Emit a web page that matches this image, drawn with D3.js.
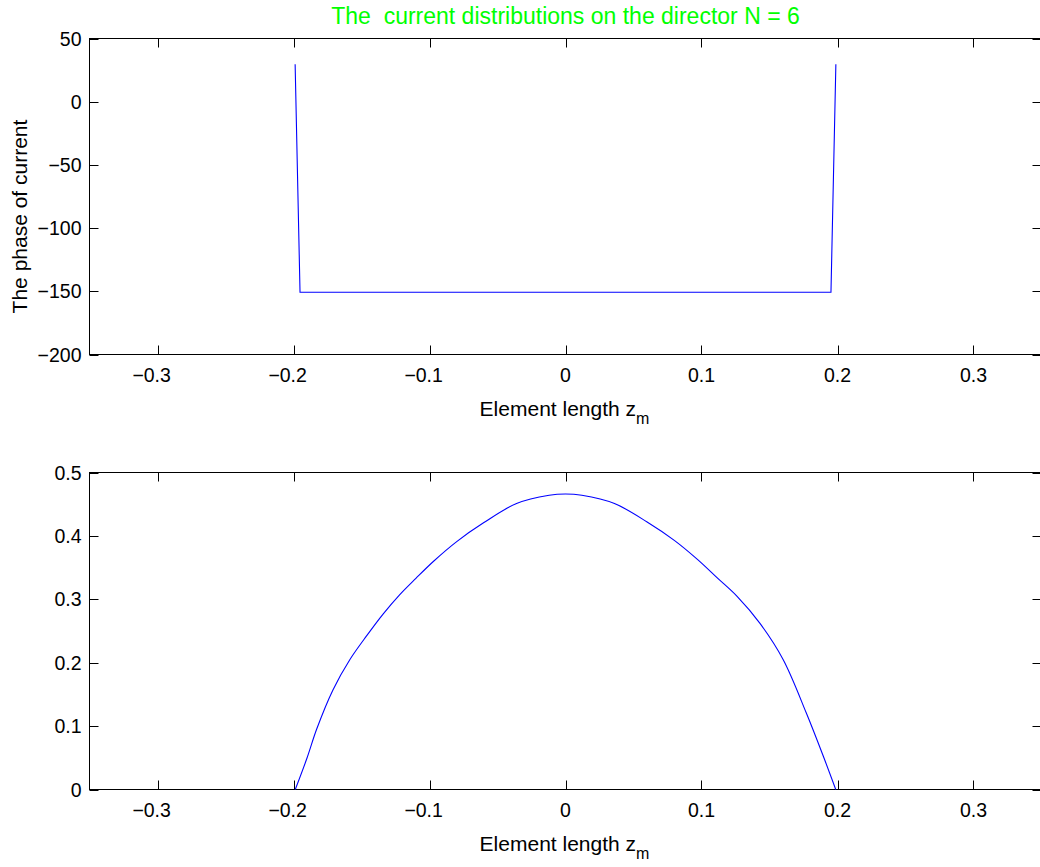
<!DOCTYPE html>
<html>
<head>
<meta charset="utf-8">
<script src="https://cdn.jsdelivr.net/npm/d3@7"></script>
<style>
  body { margin: 0; background: #fff; }
  svg { display: block; font-family: "Liberation Sans", Arial, sans-serif; }
  text { white-space: pre; }
</style>
</head>
<body>
<svg id="fig" width="1040" height="867"></svg>
<script>
// element positions along the director (m)
var zPhase = [-0.1988, -0.1952, 0.1952, 0.1988];
// phase of the current (degrees)
var phase = [29.6, -150.8, -150.8, 29.6];

var zMag = [-0.1987, -0.19, -0.183, -0.171, -0.1585, -0.146, -0.134, -0.122, -0.11, -0.097, -0.08, -0.06, -0.036, -0.012, 0,
            0.012, 0.036, 0.06, 0.08, 0.097, 0.112, 0.126, 0.143, 0.16, 0.177, 0.19, 0.1987];
// current magnitude
var mag = [0, 0.05, 0.095, 0.157, 0.205, 0.243, 0.277, 0.307, 0.333, 0.36, 0.391, 0.421, 0.451, 0.464, 0.466,
           0.464, 0.451, 0.422, 0.393, 0.363, 0.333, 0.305, 0.262, 0.205, 0.121, 0.05, 0];

var xTicks = [-0.3, -0.2, -0.1, 0, 0.1, 0.2, 0.3];
var phaseTicks = [-200, -150, -100, -50, 0, 50];
var magTicks = [0, 0.1, 0.2, 0.3, 0.4, 0.5];

var titleText = "The  current distributions on the director N = 6";
var ylabelTop = "The phase of current";

var svg = d3.select("#fig");
var left = 89.5, right = 1041.5;
var tickLen = 9;

function fmt(v){
  // matlab style: unicode minus
  return (v < 0 ? "\u2212" : "") + Math.abs(v);
}

function draw_axes(opts){
  var x = d3.scaleLinear().domain([-0.35, 0.35]).range([left, right]);
  var y = d3.scaleLinear().domain(opts.ydomain).range([opts.bottom, opts.top]);
  var g = svg.append("g");

  // box
  g.append("rect")
    .attr("x", left).attr("y", opts.top)
    .attr("width", right - left).attr("height", opts.bottom - opts.top)
    .attr("fill", "none").attr("stroke", "#000").attr("stroke-width", 1);

  // ticks inside, all four sides
  xTicks.forEach(function(t){
    var px = Math.round(x(t)) + 0.5;
    g.append("line").attr("x1", px).attr("x2", px)
      .attr("y1", opts.bottom).attr("y2", opts.bottom - tickLen)
      .attr("stroke", "#000");
    g.append("line").attr("x1", px).attr("x2", px)
      .attr("y1", opts.top).attr("y2", opts.top + tickLen)
      .attr("stroke", "#000");
    g.append("text")
      .attr("x", x(t))
      .attr("y", opts.bottom + 27)
      .attr("dx", t < 0 ? "-0.3em" : 0)
      .attr("text-anchor", "middle")
      .attr("font-size", "19.5px")
      .text(fmt(t));
  });
  opts.yticks.forEach(function(t){
    var py = Math.round(y(t)) + 0.5;
    g.append("line").attr("x1", left).attr("x2", left + tickLen)
      .attr("y1", py).attr("y2", py).attr("stroke", "#000");
    g.append("line").attr("x1", right).attr("x2", right - tickLen)
      .attr("y1", py).attr("y2", py).attr("stroke", "#000");
    g.append("text")
      .attr("x", left - 8)
      .attr("y", y(t))
      .attr("dy", "0.36em")
      .attr("text-anchor", "end")
      .attr("font-size", "19.5px")
      .text(fmt(t));
  });

  // x label with subscript
  var xl = g.append("text")
    .attr("x", (left + right) / 2 - 1)
    .attr("y", opts.bottom + 61)
    .attr("text-anchor", "middle")
    .attr("font-size", "21px");
  xl.append("tspan").text("Element length z");
  xl.append("tspan").attr("dy", 8).attr("font-size", "16px").text("m");

  var line = d3.line()
    .x(function(d){ return x(d[0]); })
    .y(function(d){ return y(d[1]); })
    .curve(opts.curve);

  g.append("path")
    .datum(d3.zip(opts.xs, opts.ys))
    .attr("d", line)
    .attr("fill", "none")
    .attr("stroke", "#0000ff")
    .attr("stroke-width", 1.1);

  return g;
}

var top1 = draw_axes({
  top: 38.5, bottom: 354.5, ydomain: [-200, 50], yticks: phaseTicks,
  xs: zPhase, ys: phase, curve: d3.curveLinear
});

top1.append("text")
  .attr("transform", "translate(27,216.5)rotate(-90)")
  .attr("text-anchor", "middle")
  .attr("font-size", "21px")
  .text(ylabelTop);

svg.append("text")
  .attr("x", (left + right) / 2)
  .attr("y", 24)
  .attr("text-anchor", "middle")
  .attr("font-size", "23px")
  .attr("fill", "#00ff00")
  .text(titleText);

draw_axes({
  top: 472.5, bottom: 789.5, ydomain: [0, 0.5], yticks: magTicks,
  xs: zMag, ys: mag, curve: d3.curveCatmullRom.alpha(0.5)
});
</script>
</body>
</html>
